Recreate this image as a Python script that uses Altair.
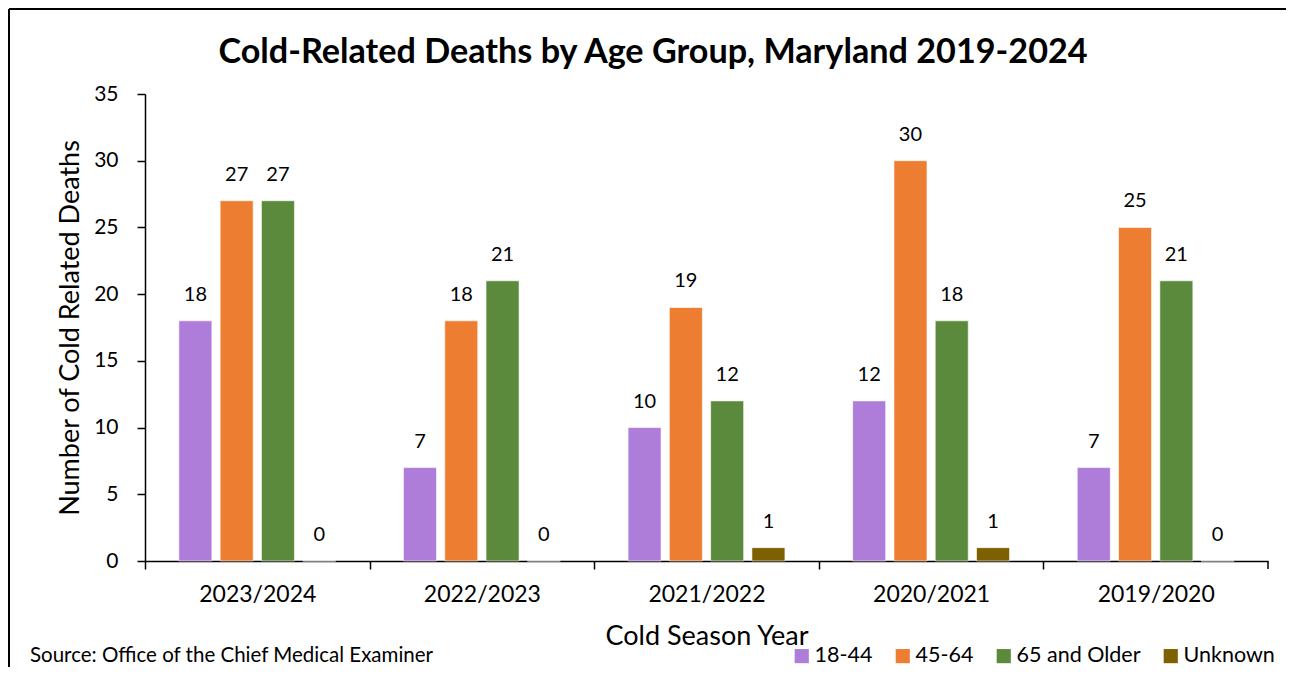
import altair as alt
import pandas as pd

# ---- data ----
seasons = ["2023/2024", "2022/2023", "2021/2022", "2020/2021", "2019/2020"]
groups = ["18-44", "45-64", "65 and Older", "Unknown"]
deaths_18_44 = [18, 7, 10, 12, 7]
deaths_45_64 = [27, 18, 19, 30, 25]
deaths_65_older = [27, 21, 12, 18, 21]
deaths_unknown = [0, 0, 1, 1, 0]
y_ticks = [0, 5, 10, 15, 20, 25, 30, 35]
colors = ["#AE7CD9", "#ED7D31", "#5B8A3C", "#7F6000"]

title_text = "Cold-Related Deaths by Age Group, Maryland 2019-2024"
source_text = "Source: Office of the Chief Medical Examiner"
x_title = "Cold Season Year"
y_title = "Number of Cold Related Deaths"

rows = []
for g, vals in zip(groups, [deaths_18_44, deaths_45_64, deaths_65_older, deaths_unknown]):
    for s, v in zip(seasons, vals):
        rows.append({"season": s, "group": g, "deaths": v})
df = pd.DataFrame(rows)

FONT = "Lato"
W, H = 1123, 467
STEP = W / len(seasons)

x_enc = alt.X(
    "season:N",
    sort=seasons,
    scale=alt.Scale(paddingInner=0, paddingOuter=0),
    axis=alt.Axis(
        title=x_title,
        titleFont=FONT,
        titleFontSize=27,
        titleFontWeight="normal",
        titleColor="black",
        titlePadding=17,
        labelFont=FONT,
        labelFontSize=23,
        labelColor="black",
        labelPadding=14,
        labelAngle=0,
        tickOffset=-STEP / 2,
        labelOffset=STEP / 2,
        tickSize=8,
        tickColor="black",
        domainColor="black",
        domainWidth=1.5,
        tickWidth=1.5,
        grid=False,
    ),
)
xo_enc = alt.XOffset(
    "group:N", sort=groups, scale=alt.Scale(paddingInner=0.2, paddingOuter=0.82)
)
y_enc = alt.Y(
    "deaths:Q",
    scale=alt.Scale(domain=[0, 35], nice=False),
    axis=alt.Axis(
        title=y_title,
        values=y_ticks,
        titleFont=FONT,
        titleFontSize=27,
        titleFontWeight="normal",
        titleColor="black",
        titlePadding=9,
        labelFont=FONT,
        labelFontSize=21,
        labelColor="black",
        labelPadding=19,
        tickSize=8,
        tickColor="black",
        domainColor="black",
        domainWidth=1.5,
        tickWidth=1.5,
        grid=False,
    ),
)

bars = alt.Chart(df).mark_bar(stroke="white", strokeWidth=0.6).encode(
    x=x_enc,
    xOffset=xo_enc,
    y=y_enc,
    color=alt.Color(
        "group:N",
        sort=groups,
        scale=alt.Scale(domain=groups, range=colors),
        legend=alt.Legend(
            title=None,
            orient="none",
            legendX=646,
            legendY=551,
            direction="horizontal",
            symbolType="square",
            symbolSize=200,
            symbolStrokeWidth=0,
            labelFont=FONT,
            labelFontSize=21.5,
            labelColor="black",
            labelOffset=2,
            columnPadding=19,
        ),
    ),
)

labels = alt.Chart(df).mark_text(
    dy=-26, baseline="middle", fontSize=20, font=FONT, color="black"
).encode(x=x_enc, xOffset=xo_enc, y=y_enc, text="deaths:Q")

one = pd.DataFrame({"k": [0]})
end_tick = alt.Chart(one).mark_rule(color="black", strokeWidth=1.5).encode(
    x=alt.value(W), y=alt.value(H), y2=alt.value(H + 8)
)
frame_top = alt.Chart(one).mark_rule(color="black", strokeWidth=2).encode(
    x=alt.value(-136), x2=alt.value(W + 160), y=alt.value(-85)
)
frame_left = alt.Chart(one).mark_rule(color="black", strokeWidth=2).encode(
    x=alt.value(-136), y=alt.value(-85), y2=alt.value(H + 120)
)
source = alt.Chart(one).mark_text(
    align="left", baseline="middle", fontSize=20.5, font=FONT, color="black"
).encode(x=alt.value(30 - 145), y=alt.value(656 - 94), text=alt.value(source_text))
title = alt.Chart(one).mark_text(
    align="center", baseline="middle", fontSize=34.2, fontWeight="bold", font=FONT, color="black"
).encode(x=alt.value(653 - 145), y=alt.value(53 - 94), text=alt.value(title_text))

chart = alt.layer(bars, labels, end_tick, frame_top, frame_left, source, title).properties(
    width=W,
    height=H,
    autosize=alt.AutoSizeParams(type="none"),
    padding={"left": 137, "top": 86, "right": 18, "bottom": 106},
).configure_view(stroke=None)

chart.save("out.html", embed_options={"renderer": "svg", "actions": False})
